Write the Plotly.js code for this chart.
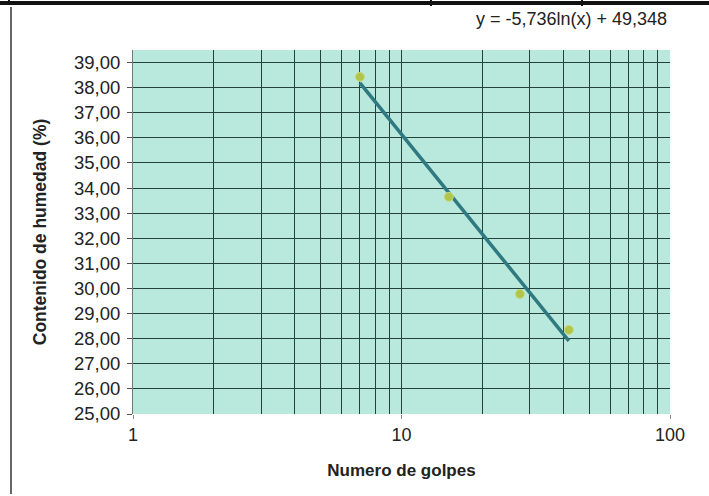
<!DOCTYPE html>
<html>
<head>
<meta charset="utf-8">
<script src="https://cdn.plot.ly/plotly-3.0.1.min.js"></script>
<style>html,body{margin:0;padding:0;background:#fff;}#chart{width:709px;height:496px;}</style>
</head>
<body>
<div id="chart"></div>
<script>
// Measured points (Numero de golpes vs Contenido de humedad)
var golpes = [7, 15, 27.6, 42];
var humedad = [38.43, 33.65, 29.78, 28.35];
// Logarithmic trendline endpoints as drawn
var trendX = [7, 42];
var trendY = [38.19, 27.91];
var equation = 'y = -5,736ln(x) + 49,348';
var xTickVals = [1, 10, 100];
var xTickText = ['1', '10', '100'];
var xMinor = [2, 3, 4, 5, 6, 7, 8, 9, 20, 30, 40, 50, 60, 70, 80, 90];
var yTicks = [25, 26, 27, 28, 29, 30, 31, 32, 33, 34, 35, 36, 37, 38, 39];

var W = 709, H = 496, L = 133, R = 670, T = 50, B = 414;
function px(x) { return (x - L) / (R - L); }
function py(y) { return (B - y) / (B - T); }

var font = 'Liberation Sans, Arial, sans-serif';
var gridCol = '#24423d';

var traces = [
  {x: trendX, y: trendY, mode: 'lines', type: 'scatter',
   line: {color: '#2e7a80', width: 3.5}, hoverinfo: 'skip'},
  {x: golpes, y: humedad, mode: 'markers', type: 'scatter',
   marker: {symbol: 'circle', size: 9, color: '#b0c64a', line: {color: '#cbd97e', width: 1}}}
];

var layout = {
  width: W, height: H,
  margin: {l: L, r: W - R, t: T, b: H - B, pad: 0},
  paper_bgcolor: '#ffffff',
  plot_bgcolor: '#b9e8dd',
  showlegend: false,
  separators: ',.',
  font: {family: font, size: 18, color: '#222'},
  xaxis: {
    type: 'log', range: [0, 2],
    tickmode: 'array', tickvals: xTickVals, ticktext: xTickText,
    showgrid: true, gridcolor: gridCol, gridwidth: 1,
    minor: {tickmode: 'array', tickvals: xMinor, showgrid: true, gridcolor: gridCol, gridwidth: 1, ticks: ''},
    ticks: 'outside', ticklen: 4, tickcolor: '#888',
    showline: false, zeroline: false,
    tickfont: {family: font, size: 18, color: '#222'},
    title: {text: '<b>Numero de golpes</b>', font: {family: font, size: 17, color: '#222'}, standoff: 20}
  },
  yaxis: {
    range: [25, 39.5],
    tickmode: 'array', tickvals: yTicks,
    tickformat: '.2f',
    showgrid: true, gridcolor: gridCol, gridwidth: 1,
    ticks: 'outside', ticklen: 5, tickcolor: '#555',
    ticklabelstandoff: 3,
    showline: true, linecolor: '#777', linewidth: 1,
    zeroline: false,
    tickfont: {family: font, size: 18.5, color: '#222'},
    title: {text: '<b>Contenido de humedad (%)</b>', font: {family: font, size: 17.5, color: '#222'}, standoff: 22}
  },
  annotations: [
    {xref: 'paper', yref: 'paper', x: px(669), y: py(19), xanchor: 'right', yanchor: 'middle',
     text: equation, showarrow: false, font: {family: font, size: 18, color: '#222'}}
  ],
  shapes: [
    // top thick border line
    {type: 'line', xref: 'paper', yref: 'paper', x0: px(0), x1: px(709), y0: py(3), y1: py(3),
     line: {color: '#111', width: 4}},
    {type: 'line', xref: 'paper', yref: 'paper', x0: px(9), x1: px(9), y0: py(0), y1: py(4),
     line: {color: '#111', width: 2}},
    {type: 'line', xref: 'paper', yref: 'paper', x0: px(431), x1: px(431), y0: py(0), y1: py(6),
     line: {color: '#111', width: 2}},
    {type: 'line', xref: 'paper', yref: 'paper', x0: px(582), x1: px(582), y0: py(0), y1: py(6),
     line: {color: '#111', width: 2}},
    // left border
    {type: 'line', xref: 'paper', yref: 'paper', x0: px(11), x1: px(11), y0: py(7), y1: py(494),
     line: {color: '#666', width: 2}}
  ]
};

Plotly.newPlot('chart', traces, layout, {displayModeBar: false, staticPlot: true});
</script>
</body>
</html>
